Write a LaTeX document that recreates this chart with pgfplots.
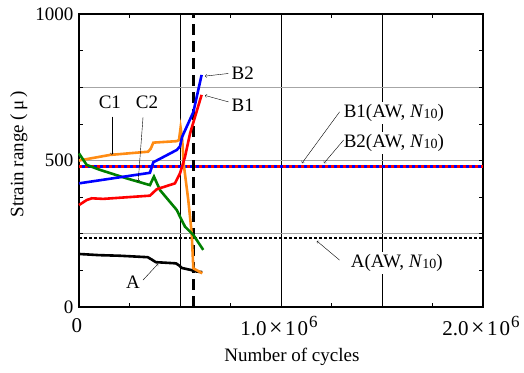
\documentclass[border=0pt]{standalone}
\usepackage{pgfplots}
\pgfplotsset{compat=1.18}
\usepackage{fontspec}
\setmainfont{Liberation Serif}
\definecolor{corange}{RGB}{255,140,20}
\definecolor{cgreen}{RGB}{0,128,0}
\newcommand{\Nten}{\textit{N}\raisebox{-1pt}{\fontsize{14}{14}\selectfont 10}}
\newcommand{\sci}[1]{{\fontsize{21}{22}\selectfont #1\hspace{2.5pt}{\fontsize{24}{22}\selectfont ×}\hspace{2.5pt}1\hspace{2pt}0\hspace{1pt}\raisebox{0.42em}{\fontsize{17}{16}\selectfont 6}}}
\begin{document}
\begin{tikzpicture}[font=\fontsize{19}{22}\selectfont]
\useasboundingbox (-79pt,-65pt) rectangle (445pt,307pt);
\begin{axis}[
  scale only axis, width=404pt, height=293pt,
  xmin=0, xmax=2000000, ymin=0, ymax=1000,
  xtick={0,500000,1000000,1500000,2000000},
  xticklabels={{\fontsize{21}{22}\selectfont 0},,{\sci{1.0}},,{\sci{2.0}}},
  ytick={0,250,500,750,1000},
  yticklabels={0,,500,,1000},
  scaled x ticks=false,
  minor x tick num=1, minor y tick num=1,
  tick align=inside,
  major tick length=4pt, minor tick length=4pt,
  tick style={black, line width=0.6pt},
  axis line style={line width=2.6pt},
  grid=major,
  major x grid style={black, line width=0.7pt},
  major y grid style={gray!70, line width=0.9pt},
  xlabel={Number of cycles},
  ylabel={Strain range (\,μ\,)},
  xlabel style={at={(axis description cs:0.527,0)}, anchor=center, yshift=-50pt},
  ylabel style={at={(axis description cs:-0.149,0.522)}, anchor=center},
  xticklabel style={anchor=center, yshift=-19pt, xshift=-2pt},
  yticklabel style={xshift=-2pt},
  clip=false,
]
% reference lines
\addplot[red, line width=3pt, dash pattern=on 3pt off 3pt] coordinates {(0,478) (2000000,478)};
\addplot[blue, line width=3pt, dash pattern=on 3pt off 3pt, dash phase=3pt] coordinates {(0,478) (2000000,478)};
\addplot[black, line width=2.5pt, dash pattern=on 3pt off 2pt] coordinates {(0,235) (2000000,235)};
% vertical dashed
\addplot[black, line width=3pt, dash pattern=on 11pt off 6pt] coordinates {(569000,0) (569000,1000)};
% A
\addplot[black, line width=2.6pt] coordinates {(0,181) (100000,177) (200000,175) (340000,170) (360000,162) (380000,153) (480000,149) (495000,142) (510000,133) (550000,127) (583000,121) (610000,119)};
% C1 orange
\addplot[corange, line width=2.6pt] coordinates {(0,500) (153000,519) (342000,530) (355000,540) (368000,561) (484000,566) (495000,570) (503000,612) (510000,580) (520000,479) (541000,365) (558000,251) (566000,132) (610000,115)};
% C2 green
\addplot[cgreen, line width=2.6pt] coordinates {(0,524) (38000,485) (104000,468) (236000,439) (351000,416) (371000,445) (401000,399) (484000,331) (508000,297) (525000,274) (550000,257) (566000,246) (615000,195)};
% B1 red
\addplot[red, line width=2.6pt] coordinates {(0,348) (38000,365) (63000,371) (120000,369) (351000,380) (385000,402) (475000,422) (500000,456) (525000,513) (550000,593) (607000,724)};
% B2 blue
\addplot[blue, line width=2.6pt] coordinates {(0,422) (351000,458) (368000,494) (484000,536) (500000,548) (510000,580) (533000,615) (566000,665) (607000,792)};
% labels
\node[fill=white, inner xsep=8pt, inner ysep=6pt] at (axis cs:153000,700) {C1};
\node[fill=white, inner xsep=8pt, inner ysep=6pt] at (axis cs:337000,700) {C2};
\draw[->, thin] (axis cs:163000,650) -- (axis cs:163000,520);
\draw[->, thin] (axis cs:317000,648) -- (axis cs:293000,428);
\node[fill=white, anchor=west, inner xsep=4pt, inner ysep=8pt] at (axis cs:735000,799) {B2};
\node[fill=white, anchor=west, inner xsep=4pt, inner ysep=8pt] at (axis cs:735000,690) {B1};
\draw[->, thin] (axis cs:740000,797) -- (axis cs:624000,788);
\draw[->, thin] (axis cs:740000,700) -- (axis cs:624000,722);
\node[fill=white, anchor=west, inner sep=2pt] at (axis cs:1300000,662) {B1(AW, \Nten)};
\node[fill=white, anchor=west, inner sep=2pt] at (axis cs:1300000,560) {B2(AW, \Nten)};
\draw[->, thin] (axis cs:1290000,666) -- (axis cs:1104000,491);
\draw[->, thin] (axis cs:1310000,570) -- (axis cs:1213000,491);
\node[fill=white, anchor=west, inner sep=2pt] at (axis cs:1335000,150) {A(AW, \Nten)};
\draw[->, thin] (axis cs:1290000,160) -- (axis cs:1178000,225);
\node at (axis cs:267000,85) {A};
\draw[->, thin] (axis cs:317000,92) -- (axis cs:391000,147);
\end{axis}
\end{tikzpicture}
\end{document}
